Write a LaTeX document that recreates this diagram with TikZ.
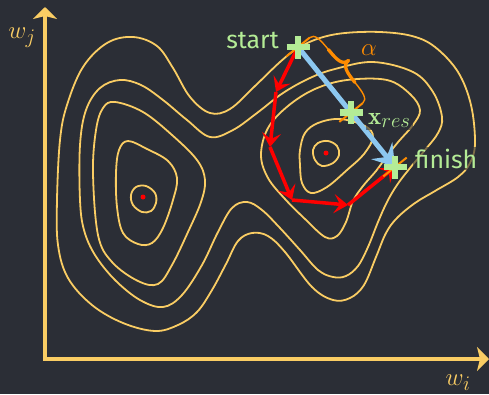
\documentclass[tikz,border=0pt]{standalone}
\usepackage{fontspec}
\setsansfont{Fira Sans}
\usetikzlibrary{arrows.meta}
\definecolor{bgc}{RGB}{43,46,54}
\definecolor{yel}{RGB}{250,205,100}
\definecolor{redc}{RGB}{255,0,0}
\definecolor{bluec}{RGB}{140,200,240}
\definecolor{orc}{RGB}{255,140,0}
\definecolor{grn}{RGB}{180,236,150}
\tikzset{
  contour/.style={draw=yel, line width=1.8pt},
  axis/.style={draw=yel, line width=4pt, {Stealth[length=12pt,width=24pt,inset=3pt]}-{Stealth[length=12pt,width=24pt,inset=3pt]}},
  redseg/.style={draw=redc, line width=3.5pt, -{Stealth[length=14pt,width=19pt,inset=6pt]}},
  bluearr/.style={draw=bluec, line width=5pt, -{Stealth[length=21pt,width=27pt,inset=8pt]}},
  tickmark/.style={draw=orc, line width=2pt},
  crossmark/.style={draw=grn, line width=6.5pt},
  bigfont/.style={font=\fontsize{24.88}{30}\selectfont},
  lbl/.style={bigfont, text=grn, fill=bgc, fill opacity=0.6, text opacity=1, inner sep=2pt},
  mindot/.style={circle, fill=redc, minimum size=5pt, inner sep=0pt},
  bracestyle/.style={draw=orc, line width=3.3pt, line cap=round},
  bracethin/.style={draw=orc, line width=1.4pt, line cap=round},
}
\begin{document}
\begin{tikzpicture}[x=1pt,y=-1pt]
\fill[bgc] (0,0) rectangle (489,394);
\useasboundingbox (0,0) rectangle (489,394);

% contours
\draw[contour] plot[smooth cycle, tension=0.6] coordinates {(60,140) (67,105) (83,67) (107,43) (133,37) (157,46) (173,68) (190,97) (210,113) (230,109) (255,86) (280,62) (298,48) (320,38) (345,33) (380,32) (412,36) (435,47) (458,72) (471,105) (475,143) (470,163) (458,177) (435,191) (415,203) (397,218) (386,233) (376,257) (364,285) (350,298) (333,300) (312,287) (285,252) (268,236) (252,233) (238,241) (226,264) (212,290) (197,312) (178,325) (155,331) (123,323) (92,305) (68,278) (58,245) (57,200)};
\draw[contour] plot[smooth cycle, tension=0.6] coordinates {(80,200) (80,145) (86,110) (100,88) (120,80) (141,85) (163,100) (187,120) (210,137) (233,130) (257,113) (283,93) (310,78) (335,69) (373,62) (413,72) (433,92) (442,117) (438,133) (425,150) (410,168) (397,185) (387,202) (378,222) (368,247) (358,266) (346,276) (333,277) (318,270) (300,250) (280,228) (262,210) (247,202) (232,208) (218,232) (202,265) (182,295) (163,307) (140,300) (115,280) (95,255) (84,230)};
\draw[contour] plot[smooth cycle, tension=0.6] coordinates {(93,173) (96,130) (103,108) (115,102) (143,112) (172,135) (197,160) (205,180) (201,202) (188,232) (172,265) (158,284) (138,281) (112,262) (98,235)};
\draw[contour] plot[smooth cycle, tension=0.6] coordinates {(116,173) (119,150) (128,141) (147,149) (168,161) (177,178) (173,200) (163,228) (152,243) (138,244) (123,233) (117,207)};
\draw[contour] plot[smooth cycle, tension=0.6] coordinates {(131,195) (136,187) (146,186) (155,193) (156,203) (151,211) (142,212) (133,205)};
\draw[contour] plot[smooth cycle, tension=0.6] coordinates {(261,155) (268,128) (288,106) (315,89) (347,80) (387,80) (410,94) (420,110) (413,125) (399,141) (387,156) (376,171) (363,186) (353,201) (346,222) (337,236) (325,237) (305,219) (285,199) (268,178)};
\draw[contour] plot[smooth cycle, tension=0.6] coordinates {(300,150) (305,133) (318,123) (340,119) (365,126) (373,137) (364,154) (347,170) (327,187) (311,193) (302,183) (300,165)};
\draw[contour] plot[smooth cycle, tension=0.6] coordinates {(313,150) (318,143) (328,141) (337,146) (339,155) (333,163) (322,166) (315,160)};

\node[mindot] (m1) at (143,197) {};
\node[mindot] (m2) at (326,153) {};

% axes
\coordinate (O) at (45,359);
\coordinate (Ytop) at (45,7);
\coordinate (Xend) at (489,359);
\draw[axis] (Ytop) -- (O) -- (Xend);
\node[bigfont, text=yel] (twj) at (22,38) {$w_j$};
\node[bigfont, text=yel] (twi) at (458,383) {$w_i$};

% key points
\coordinate (S) at (298,47);
\coordinate (X) at (351,112.5);
\coordinate (F) at (395,167);
\coordinate (P1) at (276,92);
\coordinate (P2) at (270,147);
\coordinate (P3) at (292,200);
\coordinate (P4) at (348,205);

% red path
\draw[redseg] (S) -- (P1);
\draw[redseg] (P1) -- (P2);
\draw[redseg] (P2) -- (P3);
\draw[redseg] (P3) -- (P4);
\draw[redseg] (P4) -- (F);

% blue arrow
\draw[bluearr] (S) -- (F);

% orange ticks
\coordinate (S0) at (286.3,56.4);
\coordinate (S1) at (309.7,37.6);
\coordinate (X0) at (339.3,121.9);
\coordinate (X1) at (362.7,103.2);
\coordinate (F0) at (383.3,176.4);
\coordinate (F1) at (406.7,157.6);
\draw[tickmark] (S0) -- (S1);
\draw[tickmark] (X0) -- (X1);
\draw[tickmark] (F0) -- (F1);

% curly brace between S1 and X1
\coordinate (B1) at (328.4,49.6);
\coordinate (Btip) at (348.5,60.5);
\coordinate (B3) at (354.9,82.4);
\draw[bracethin] (S1) .. controls (314.6,33.6) and (320.4,39.7) .. (B1);
\draw[bracestyle] (B1) .. controls (336.4,59.4) and (342.2,65.6) .. (Btip);
\draw[bracestyle] (Btip) .. controls (342.2,65.6) and (347.0,72.6) .. (B3);
\draw[bracethin] (B3) .. controls (362.9,92.3) and (367.6,99.2) .. (X1);
\node[bigfont, text=orc] (talpha) at (369,50) {$\alpha$};

% crosses
\draw[crossmark] (S) ++(-11.5,0) -- ++(23,0) (S) ++(0,-11.5) -- ++(0,23);
\draw[crossmark] (X) ++(-11.5,0) -- ++(23,0) (X) ++(0,-11.5) -- ++(0,23);
\draw[crossmark] (F) ++(-11.5,0) -- ++(23,0) (F) ++(0,-11.5) -- ++(0,23);

% labels
\node[lbl, font=\sffamily\fontsize{24.88}{30}\selectfont, anchor=base east] (tstart) at (281,48) {start};
\node[lbl, font=\sffamily\fontsize{24.88}{30}\selectfont, anchor=base west] (tfinish) at (413,168) {finish};
\node[lbl, anchor=base west] (txres) at (366,124) {$\mathbf{x}_{res}$};
\end{tikzpicture}
\end{document}
